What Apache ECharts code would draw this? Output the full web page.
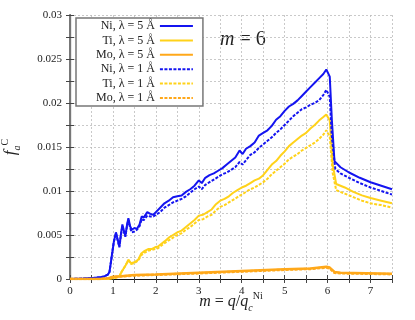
<!DOCTYPE html>
<html><head><meta charset="utf-8">
<script src="https://cdn.jsdelivr.net/npm/echarts@6/dist/echarts.min.js"></script>
<style>html,body{margin:0;padding:0;background:#fff}#c{width:415px;height:320px}</style>
</head><body><div id="c"></div>
<script>
const seriesNames = ['Ni, λ = 5 Å','Ti, λ = 5 Å','Mo, λ = 5 Å','Ni, λ = 1 Å','Ti, λ = 1 Å','Mo, λ = 1 Å'];
const xTicks = [0,1,2,3,4,5,6,7];
const yTicks = [0,0.005,0.01,0.015,0.02,0.025,0.03];

const ni5 = [[0,0],[0.3,0.00005],[0.5,0.0001],[0.7,0.0002],[0.8,0.0003],[0.88,0.0005],[0.92,0.0008],[0.97,0.0025],[1.02,0.0042],[1.07,0.0053],[1.1,0.0047],[1.15,0.0037],[1.19,0.0052],[1.22,0.0062],[1.26,0.0054],[1.29,0.0049],[1.33,0.0062],[1.36,0.0069],[1.4,0.006],[1.44,0.0056],[1.5,0.0058],[1.56,0.0057],[1.62,0.0062],[1.67,0.0071],[1.72,0.007],[1.8,0.0076],[1.87,0.0074],[1.94,0.0073],[2.0,0.0076],[2.1,0.0081],[2.2,0.0086],[2.3,0.0089],[2.4,0.0093],[2.5,0.0094],[2.6,0.0095],[2.7,0.0099],[2.8,0.0102],[2.9,0.0106],[3.0,0.0112],[3.07,0.0109],[3.15,0.0115],[3.25,0.0118],[3.35,0.012],[3.45,0.0123],[3.55,0.0126],[3.65,0.013],[3.75,0.0134],[3.85,0.0138],[3.95,0.0146],[4.02,0.0142],[4.1,0.0148],[4.2,0.0151],[4.3,0.0155],[4.4,0.0163],[4.5,0.0166],[4.6,0.0169],[4.7,0.0174],[4.8,0.0181],[4.9,0.0185],[5.0,0.0191],[5.1,0.0196],[5.2,0.0199],[5.3,0.0203],[5.4,0.0208],[5.5,0.0213],[5.6,0.0218],[5.7,0.0223],[5.8,0.0228],[5.9,0.0233],[5.97,0.0238],[6.05,0.023],[6.1,0.018],[6.16,0.0134],[6.3,0.0127],[6.5,0.0121],[6.75,0.0115],[7.0,0.011],[7.25,0.0106],[7.5,0.0102]];
const ti5 = [[0,0],[0.9,0],[1.0,0.0001],[1.1,0.0002],[1.16,0.0004],[1.2,0.0008],[1.24,0.001],[1.3,0.0016],[1.36,0.0022],[1.42,0.0018],[1.5,0.0019],[1.59,0.0022],[1.66,0.0029],[1.74,0.0032],[1.82,0.0034],[1.9,0.0034],[1.98,0.0036],[2.05,0.0037],[2.13,0.004],[2.21,0.0043],[2.3,0.0047],[2.4,0.005],[2.5,0.0053],[2.6,0.0055],[2.7,0.0059],[2.8,0.0063],[2.9,0.0067],[3.0,0.0072],[3.1,0.0073],[3.2,0.0076],[3.3,0.0079],[3.4,0.0085],[3.5,0.0089],[3.6,0.0091],[3.7,0.0094],[3.8,0.0098],[3.9,0.0101],[4.0,0.0104],[4.1,0.0106],[4.2,0.0109],[4.3,0.0112],[4.4,0.0114],[4.5,0.0118],[4.6,0.0124],[4.7,0.013],[4.8,0.0134],[4.9,0.014],[5.0,0.0145],[5.1,0.0151],[5.2,0.0155],[5.3,0.0159],[5.4,0.0163],[5.5,0.0166],[5.6,0.0171],[5.7,0.0175],[5.8,0.018],[5.9,0.0184],[5.97,0.0187],[6.05,0.018],[6.12,0.013],[6.2,0.0108],[6.4,0.0104],[6.6,0.0099],[6.8,0.0095],[7.0,0.0092],[7.25,0.0089],[7.5,0.0086]];
const mo5 = [[0,0],[0.7,0],[0.9,0.0001],[1.0,0.00025],[1.2,0.0003],[1.5,0.00045],[2,0.0005],[3,0.0007],[4,0.0009],[5,0.0011],[5.6,0.0012],[5.97,0.0014],[6.05,0.0013],[6.16,0.0008],[6.3,0.0007],[7.5,0.0006]];
const ni1 = [[0,0],[0.3,0.00005],[0.5,0.0001],[0.7,0.0002],[0.8,0.0003],[0.88,0.0005],[0.92,0.0008],[0.97,0.0025],[1.02,0.0042],[1.07,0.0052],[1.1,0.0046],[1.15,0.0036],[1.19,0.0051],[1.22,0.006],[1.26,0.0053],[1.29,0.0048],[1.33,0.0061],[1.36,0.0067],[1.4,0.0058],[1.44,0.0053],[1.5,0.0054],[1.56,0.0056],[1.62,0.006],[1.67,0.0068],[1.72,0.0067],[1.8,0.0072],[1.87,0.0071],[1.94,0.0071],[2.0,0.0073],[2.1,0.0076],[2.2,0.0081],[2.3,0.0084],[2.4,0.0087],[2.5,0.0089],[2.6,0.0091],[2.7,0.0094],[2.8,0.0098],[2.9,0.0102],[3.0,0.0105],[3.07,0.0102],[3.15,0.0107],[3.25,0.011],[3.35,0.0113],[3.45,0.0116],[3.55,0.0119],[3.65,0.0121],[3.75,0.0124],[3.85,0.0127],[3.95,0.0133],[4.02,0.013],[4.1,0.0135],[4.2,0.0141],[4.3,0.0144],[4.4,0.0149],[4.5,0.0153],[4.6,0.0157],[4.7,0.0161],[4.8,0.0166],[4.9,0.017],[5.0,0.0175],[5.1,0.018],[5.2,0.0185],[5.3,0.0189],[5.4,0.0193],[5.5,0.0195],[5.6,0.0198],[5.7,0.02],[5.8,0.0203],[5.9,0.0209],[5.97,0.0215],[6.05,0.0207],[6.1,0.016],[6.18,0.0125],[6.3,0.012],[6.5,0.0115],[6.75,0.0109],[7.0,0.0104],[7.25,0.01],[7.5,0.0096]];
const ti1 = [[0,0],[0.9,0],[1.0,0.0001],[1.1,0.0002],[1.16,0.0004],[1.2,0.0008],[1.24,0.001],[1.3,0.0016],[1.36,0.0021],[1.42,0.0017],[1.5,0.0018],[1.59,0.0021],[1.66,0.0027],[1.74,0.003],[1.82,0.0032],[1.9,0.0033],[1.98,0.0034],[2.05,0.0035],[2.13,0.0038],[2.21,0.0041],[2.3,0.0044],[2.4,0.0047],[2.5,0.005],[2.6,0.0052],[2.7,0.0056],[2.8,0.0059],[2.9,0.0063],[3.0,0.0067],[3.1,0.0068],[3.2,0.0071],[3.3,0.0073],[3.4,0.0078],[3.5,0.0082],[3.6,0.0084],[3.7,0.0087],[3.8,0.009],[3.9,0.0093],[4.0,0.0096],[4.1,0.0099],[4.2,0.0102],[4.3,0.0104],[4.4,0.0107],[4.5,0.011],[4.6,0.0114],[4.7,0.0119],[4.8,0.0123],[4.9,0.0127],[5.0,0.0131],[5.1,0.0136],[5.2,0.0139],[5.3,0.0142],[5.4,0.0146],[5.5,0.0149],[5.6,0.0152],[5.7,0.0155],[5.8,0.0159],[5.9,0.0164],[5.97,0.0169],[6.05,0.0162],[6.12,0.012],[6.2,0.0101],[6.4,0.0097],[6.6,0.0093],[6.8,0.0089],[7.0,0.0086],[7.25,0.0084],[7.5,0.0081]];
const mo1 = [[0,0],[0.7,0],[0.9,0.0001],[1.0,0.0002],[1.2,0.0003],[1.5,0.0004],[2,0.00048],[3,0.00065],[4,0.00085],[5,0.00105],[5.6,0.00115],[5.97,0.0013],[6.05,0.0012],[6.16,0.0007],[6.3,0.00065],[7.5,0.00055]];

const dataSets = [ni5, ti5, mo5, ni1, ti1, mo1];
const colors = ['#1414f0','#ffd21a','#ffa81a','#1414f0','#ffd21a','#ffa81a'];
const widths = [2,2,2.5,2,2,2.5];
const dashed = [false,false,false,true,true,true];

const FONT = 'Liberation Serif';
const chart = echarts.init(document.getElementById('c'), null, {renderer:'canvas'});

function isNear(v, arr){ return arr.some(t => Math.abs(t - v) < 1e-9); }

const option = {
  animation: false,
  backgroundColor: '#fff',
  textStyle: {fontFamily: FONT},
  grid: {left: 70, right: 23, top: 15, bottom: 41, containLabel: false, outerBoundsMode: 'none'},
  legend: {
    orient: 'vertical', left: 76, top: 18, align: 'right',
    data: seriesNames,
    itemWidth: 33, itemHeight: 10, itemGap: 2.4,
    padding: [2, 9, 2, 20],
    backgroundColor: '#fff', borderColor: '#777', borderWidth: 1.5, borderRadius: 0,
    itemStyle: {opacity: 0, color: 'rgba(0,0,0,0)', borderWidth: 0},
    textStyle: {fontFamily: FONT, fontSize: 12, color: '#222'}
  },
  xAxis: [{
    type: 'value', min: 0, max: 7.5, interval: 0.5,
    name: '{i|m} = {i|q}/{i|q}{sub|c}{sup|Ni}', nameLocation: 'middle', nameGap: 12, nameMoveOverlap: false,
    nameTextStyle: {fontFamily: FONT, fontSize: 16, color: '#222', lineHeight: 22,
      rich: {i: {fontStyle: 'italic', fontFamily: FONT, fontSize: 16, color: '#222'},
             sub: {fontStyle: 'italic', fontFamily: FONT, fontSize: 10, color: '#222', verticalAlign: 'bottom', padding: [6,0,0,0]},
             sup: {fontFamily: FONT, fontSize: 10, color: '#222', verticalAlign: 'top', padding: [0,0,6,0]}}},
    axisLine: {show: true, lineStyle: {color: '#111', width: 1.2}},
    axisTick: {inside: true, length: 4, lineStyle: {color: '#444'}},
    axisLabel: {fontFamily: FONT, fontSize: 11, color: '#222', margin: 7,
      formatter: v => isNear(v, xTicks) ? String(Math.round(v)) : ''},
    splitLine: {show: true, lineStyle: {color: '#bbb', width: 0.8, type: [2,2]}}
  },{
    type: 'value', min: 0, max: 7.5, interval: 0.5, position: 'top',
    axisLine: {show: true, lineStyle: {color: '#111', width: 1.2}},
    axisTick: {inside: true, length: 4, lineStyle: {color: '#444'}},
    axisLabel: {show: false}, splitLine: {show: false}
  }],
  yAxis: [{
    type: 'value', min: 0, max: 0.03, interval: 0.0025,
    name: '{i|f}{sub|a}{sup|C}', nameLocation: 'middle', nameGap: 48, nameRotate: 90, nameMoveOverlap: false,
    nameTextStyle: {fontFamily: FONT, fontSize: 16, color: '#222', lineHeight: 22,
      rich: {i: {fontStyle: 'italic', fontFamily: FONT, fontSize: 17, color: '#222'},
             sub: {fontStyle: 'italic', fontFamily: FONT, fontSize: 10, color: '#222', verticalAlign: 'bottom', padding: [6,0,0,0]},
             sup: {fontFamily: FONT, fontSize: 10, color: '#222', verticalAlign: 'top', padding: [0,0,6,0]}}},
    axisLine: {show: true, lineStyle: {color: '#111', width: 1.2}},
    axisTick: {inside: true, length: 4, lineStyle: {color: '#444'}},
    axisLabel: {fontFamily: FONT, fontSize: 11, color: '#222', margin: 8,
      formatter: v => isNear(v, yTicks) ? String(Number(v.toFixed(4))) : ''},
    splitLine: {show: true, lineStyle: {color: '#bbb', width: 0.8, type: [2,2]}}
  },{
    type: 'value', min: 0, max: 0.03, interval: 0.0025, position: 'right',
    axisLine: {show: true, lineStyle: {color: '#777', width: 2}},
    axisTick: {inside: true, length: 4, lineStyle: {color: '#444'}},
    axisLabel: {show: false}, splitLine: {show: false}
  }],
  graphic: [{
    type: 'text', left: 220, top: 30,
    style: {text: '{i|m} = 6', fontFamily: FONT, fontSize: 20, fill: '#222',
      rich: {i: {fontStyle: 'italic', fontFamily: FONT, fontSize: 20, fill: '#222'}}}
  }],
  series: dataSets.map((d, i) => ({
    name: seriesNames[i], type: 'line', data: d, symbol: 'none', showSymbol: false,
    xAxisIndex: 0, yAxisIndex: 0,
    lineStyle: {color: colors[i], width: widths[i], type: dashed[i] ? [3,1.5] : 'solid'},
    itemStyle: {color: colors[i]},
    z: 3 + i
  }))
};
chart.setOption(option);
</script></body></html>
